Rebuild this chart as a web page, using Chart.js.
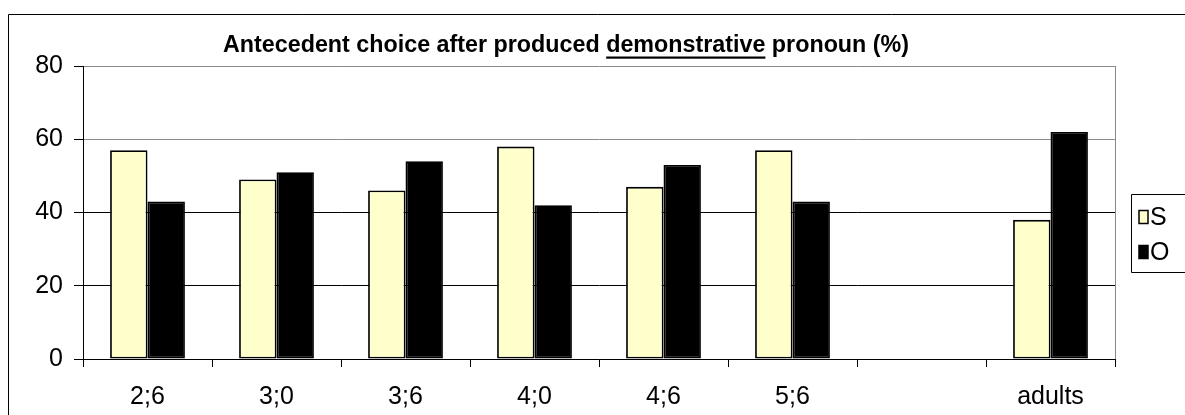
<!DOCTYPE html>
<html><head><meta charset="utf-8">
<script src="https://cdn.jsdelivr.net/npm/chart.js@4"></script>
<style>html,body{margin:0;padding:0;background:#fff}canvas{display:block}</style>
</head><body>
<canvas id="c" width="1185" height="415"></canvas>
<script>
const categories = ['2;6', '3;0', '3;6', '4;0', '4;6', '5;6', '', 'adults'];
const seriesNames = ['S', 'O'];
const valuesS = [57, 49, 46, 58, 47, 57, null, 38];
const valuesO = [43, 51, 54, 42, 53, 43, null, 62];
const yTicks = [0, 20, 40, 60, 80];
const titleParts = ['Antecedent choice after produced ', 'demonstrative', ' pronoun (%)'];

const FONT = '"Liberation Sans", Arial, sans-serif';
const colS = '#FFFFCC';
const colO = '#000000';

const framePlugin = {
  id: 'frame',
  beforeDraw(chart) {
    const ctx = chart.ctx;
    ctx.save();
    ctx.fillStyle = '#fff';
    ctx.fillRect(0, 0, chart.width, chart.height);
    ctx.strokeStyle = '#000';
    ctx.lineWidth = 1;
    ctx.beginPath();
    ctx.moveTo(8.5, chart.height + 2);
    ctx.lineTo(8.5, 14.5);
    ctx.lineTo(chart.width + 2, 14.5);
    ctx.stroke();
    ctx.restore();
  },
  afterDraw(chart) {
    const ctx = chart.ctx;
    const a = chart.chartArea;
    ctx.save();
    ctx.strokeStyle = '#8a8a8a';
    ctx.lineWidth = 1;
    ctx.beginPath();
    ctx.moveTo(Math.round(a.right) + 0.5, a.top);
    ctx.lineTo(Math.round(a.right) + 0.5, a.bottom);
    ctx.stroke();

    ctx.font = 'bold 23.3px ' + FONT;
    ctx.fillStyle = '#000';
    ctx.textBaseline = 'alphabetic';
    ctx.textAlign = 'left';
    const widths = titleParts.map(p => ctx.measureText(p).width);
    const total = widths.reduce((s, w) => s + w, 0);
    let x = 566 - total / 2;
    const base = 52;
    titleParts.forEach((p, i) => {
      ctx.fillText(p, x, base);
      if (i === 1) ctx.fillRect(x, 56.5, widths[i], 2.2);
      x += widths[i];
    });

    ctx.strokeStyle = '#000';
    ctx.lineWidth = 1;
    ctx.beginPath();
    ctx.moveTo(chart.width + 2, 194.5);
    ctx.lineTo(1131.5, 194.5);
    ctx.lineTo(1131.5, 272.5);
    ctx.lineTo(chart.width + 2, 272.5);
    ctx.stroke();
    ctx.font = '25px ' + FONT;
    ctx.textBaseline = 'middle';
    chart.data.datasets.forEach((ds, i) => {
      const cy = 217 + i * 35;
      ctx.fillStyle = ds.backgroundColor;
      ctx.fillRect(1139, cy - 6.5, 9, 13);
      ctx.strokeStyle = '#000';
      ctx.lineWidth = 1.5;
      ctx.strokeRect(1139, cy - 6.5, 9, 13);
      ctx.fillStyle = '#000';
      ctx.fillText(ds.label, 1150, cy + 1);
    });
    ctx.restore();
  }
};

new Chart(document.getElementById('c'), {
  type: 'bar',
  data: {
    labels: categories,
    datasets: [
      { label: seriesNames[0], data: valuesS, backgroundColor: colS, borderColor: '#000', borderWidth: 1.8, borderSkipped: false },
      { label: seriesNames[1], data: valuesO, backgroundColor: colO, borderColor: '#000', borderWidth: 1.8, borderSkipped: false }
    ]
  },
  options: {
    responsive: false,
    animation: false,
    devicePixelRatio: 1,
    layout: { padding: { top: 66, right: 70, left: 0, bottom: 0 } },
    datasets: { bar: { categoryPercentage: 0.58, barPercentage: 1.0 } },
    plugins: { legend: { display: false }, tooltip: { enabled: false }, title: { display: false } },
    scales: {
      x: {
        afterFit(s) { s.height = 56; },
        grid: { offset: true, drawOnChartArea: false, drawTicks: true, tickLength: 8, tickColor: '#000' },
        border: { display: true, color: '#000', width: 1 },
        ticks: { font: { family: FONT, size: 25 }, color: '#000', padding: 15, maxRotation: 0, autoSkip: false }
      },
      y: {
        min: yTicks[0],
        max: yTicks[yTicks.length - 1],
        afterFit(s) { s.width = 83; },
        afterBuildTicks(s) { s.ticks = yTicks.map(v => ({ value: v })); },
        grid: {
          color: c => (c.tick && c.tick.value >= 60) ? '#8a8a8a' : '#000',
          tickColor: '#000', tickLength: 9, drawTicks: true, lineWidth: 1
        },
        border: { display: true, color: '#000', width: 1 },
        ticks: { font: { family: FONT, size: 25 }, color: '#000', padding: 11 }
      }
    }
  },
  plugins: [framePlugin]
});
</script>
</body></html>
